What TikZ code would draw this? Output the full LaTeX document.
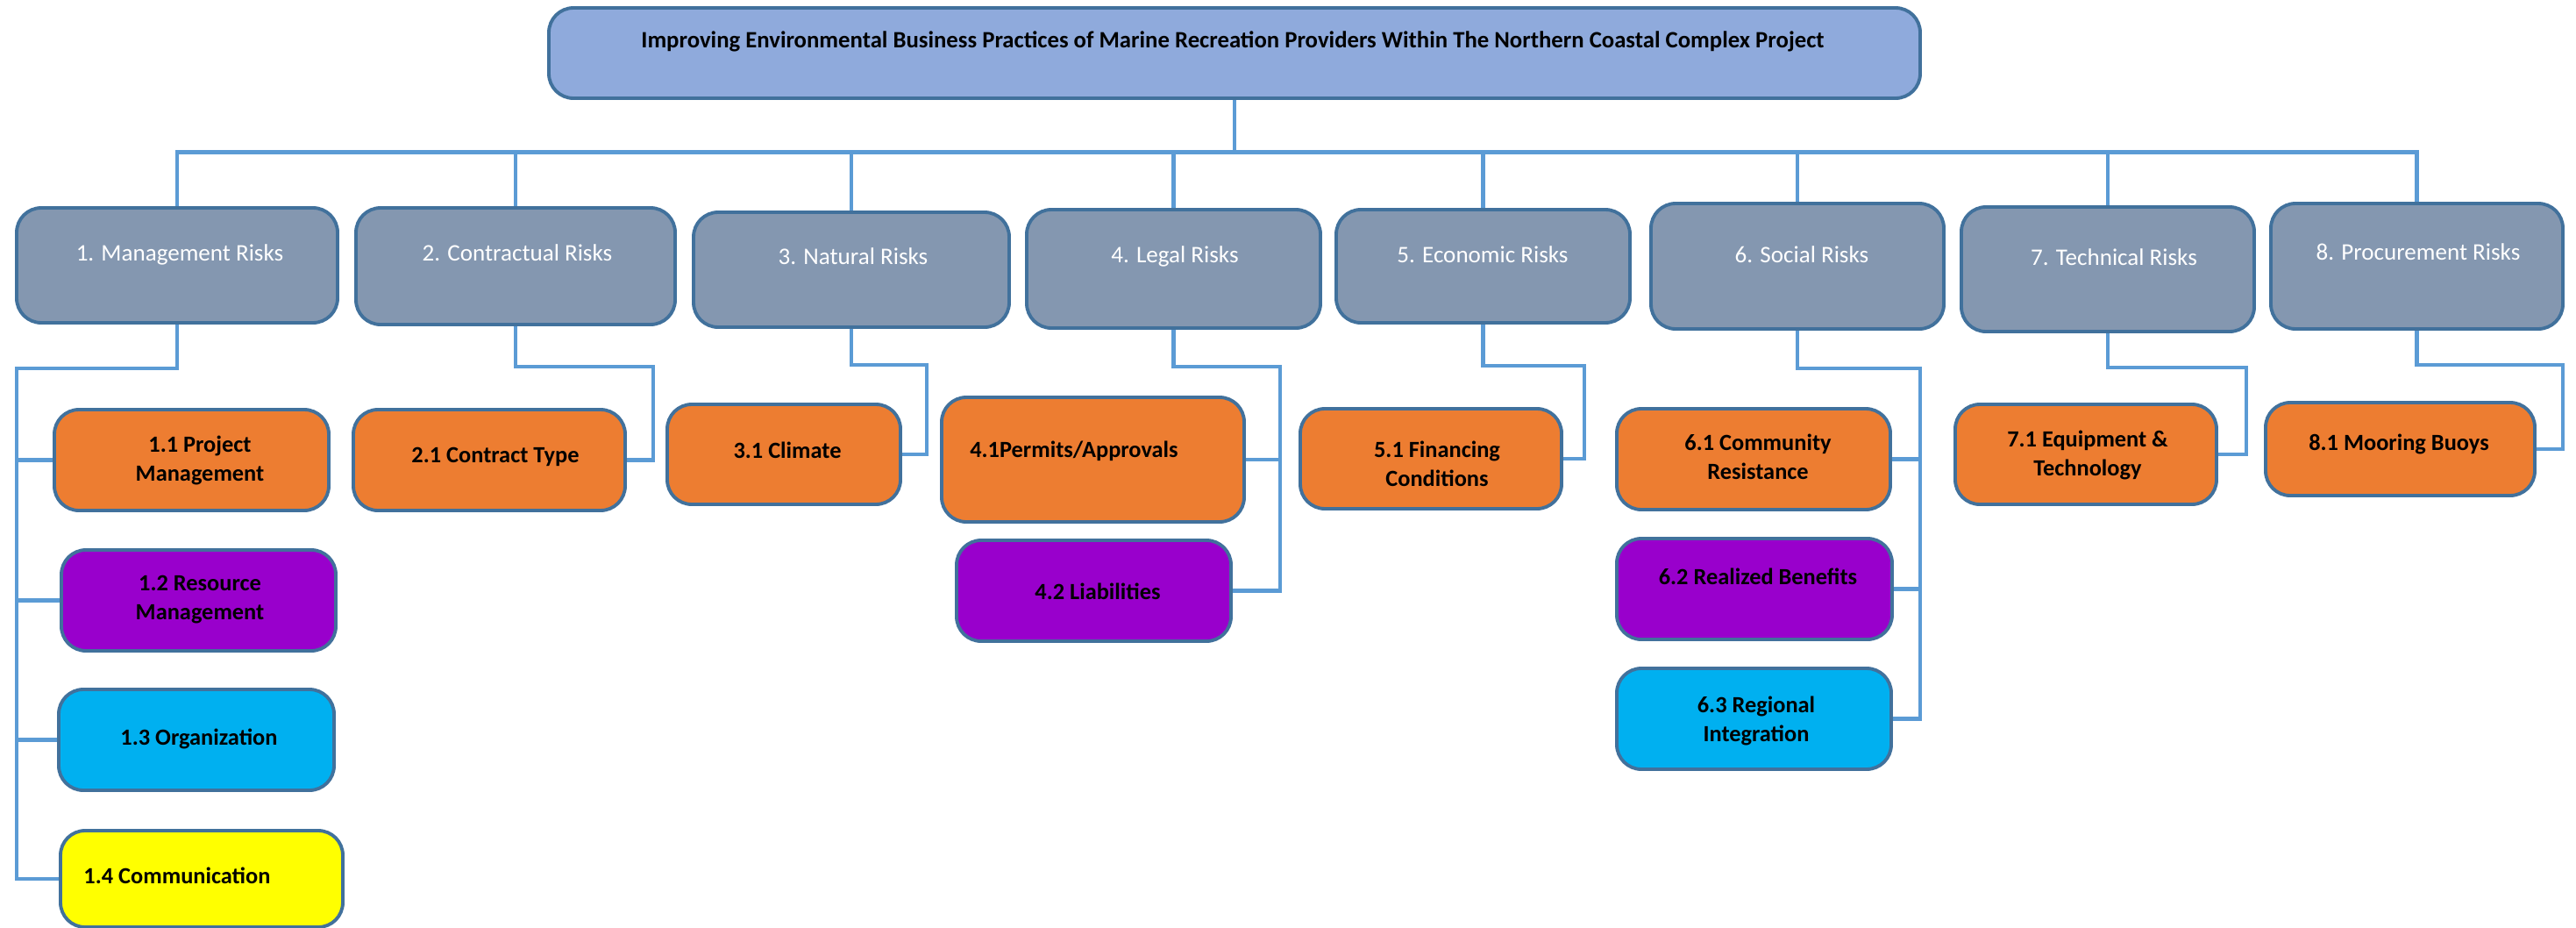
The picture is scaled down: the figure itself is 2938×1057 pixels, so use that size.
\documentclass[tikz,border=0pt]{standalone}
\usepackage{fontspec}
\setmainfont{Carlito}
\usetikzlibrary{calc}
\definecolor{lineblue}{HTML}{5B9BD5}
\definecolor{edgeblue}{HTML}{41719C}
\definecolor{topfill}{HTML}{8FAADC}
\definecolor{catfill}{HTML}{8497B0}
\definecolor{orangefill}{HTML}{ED7D31}
\definecolor{purplefill}{HTML}{9900CC}
\definecolor{cyanfill}{HTML}{00B0F0}
\definecolor{yellowfill}{HTML}{FFFF00}
\begin{document}
\begin{tikzpicture}[x=0.01cm,y=-0.01cm,
  box/.style={draw=edgeblue, line width=1.1pt, rounded corners=0.28cm, inner sep=0pt},
  topbox/.style={box, fill=topfill},
  catbox/.style={box, fill=catfill},
  orbox/.style={box, fill=orangefill},
  pubox/.style={box, fill=purplefill},
  cybox/.style={box, fill=cyanfill},
  yebox/.style={box, fill=yellowfill},
  cattext/.style={inner sep=0pt, text=white, font=\fontsize{7.7}{9.4}\selectfont},
  subtext/.style={inner sep=0pt, align=center, text=black, font=\fontsize{7.5}{9.4}\selectfont\bfseries},
  titletext/.style={inner sep=0pt, text=black, font=\fontsize{7.6}{9}\selectfont\bfseries},
  conn/.style={draw=lineblue, line width=1.4pt}
]
\useasboundingbox (0,0) rectangle (2938,1057);
\fill[white] (0,0) rectangle (2938,1057);

% top
\node[topbox, minimum width=1564*0.01cm, minimum height=103*0.01cm] (top) at (1408,60.5) {};
\node[titletext] (ttop) at (1406,47) {Improving Environmental Business Practices of Marine Recreation Providers Within The Northern Coastal Complex Project};

% level 1
\node[catbox, minimum width=366*0.01cm, minimum height=131*0.01cm] (r1) at (202,302.5) {};
\node[catbox, minimum width=364*0.01cm, minimum height=133*0.01cm] (r2) at (588,303.5) {};
\node[catbox, minimum width=360*0.01cm, minimum height=131*0.01cm] (r3) at (971,307.5) {};
\node[catbox, minimum width=335*0.01cm, minimum height=135*0.01cm] (r4) at (1338.5,306.5) {};
\node[catbox, minimum width=335*0.01cm, minimum height=129*0.01cm] (r5) at (1691.5,303.5) {};
\node[catbox, minimum width=334*0.01cm, minimum height=143*0.01cm] (r6) at (2050,303.5) {};
\node[catbox, minimum width=334*0.01cm, minimum height=142*0.01cm] (r7) at (2404,307) {};
\node[catbox, minimum width=333*0.01cm, minimum height=143*0.01cm] (r8) at (2756.5,303.5) {};

\node[cattext] (tr1) at (205,290) {1. Management Risks};
\node[cattext] (tr2) at (590,288) {2. Contractual Risks};
\node[cattext] (tr3) at (973,292) {3. Natural Risks};
\node[cattext] (tr4) at (1340,292) {4. Legal Risks};
\node[cattext] (tr5) at (1691,290) {5. Economic Risks};
\node[cattext] (tr6) at (2055,290) {6. Social Risks};
\node[cattext] (tr7) at (2411,293) {7. Technical Risks};
\node[cattext] (tr8) at (2758,287) {8. Procurement Risks};

% level 2
\node[orbox, minimum width=313*0.01cm, minimum height=115*0.01cm] (s11) at (218.5,524.5) {};
\node[pubox, minimum width=313*0.01cm, minimum height=115*0.01cm] (s12) at (226.5,684.5) {};
\node[cybox, minimum width=314*0.01cm, minimum height=115*0.01cm] (s13) at (224,843.5) {};
\node[yebox, minimum width=322*0.01cm, minimum height=110*0.01cm] (s14) at (230,1002) {};
\node[orbox, minimum width=310*0.01cm, minimum height=115*0.01cm] (s21) at (558,524.5) {};
\node[orbox, minimum width=266*0.01cm, minimum height=114*0.01cm] (s31) at (894,518) {};
\node[orbox, minimum width=345*0.01cm, minimum height=142*0.01cm] (s41) at (1246.5,524) {};
\node[pubox, minimum width=313*0.01cm, minimum height=115*0.01cm] (s42) at (1247.5,673.5) {};
\node[orbox, minimum width=298*0.01cm, minimum height=114*0.01cm] (s51) at (1632,523) {};
\node[orbox, minimum width=312*0.01cm, minimum height=115*0.01cm] (s61) at (2000,523.5) {};
\node[pubox, minimum width=314*0.01cm, minimum height=115*0.01cm] (s62) at (2001,671.5) {};
\node[cybox, minimum width=313*0.01cm, minimum height=115*0.01cm] (s63) at (2000.5,819.5) {};
\node[orbox, minimum width=298*0.01cm, minimum height=114*0.01cm] (s71) at (2379,518) {};
\node[orbox, minimum width=307*0.01cm, minimum height=106*0.01cm] (s81) at (2737.5,512) {};

\node[subtext] (ts11) at (228,525) {1.1 Project\\Management};
\node[subtext] (ts12) at (228,684) {1.2 Resource\\Management};
\node[subtext] (ts13) at (227,842) {1.3 Organization};
\node[subtext] (ts14) at (202,998) {1.4 Communication};
\node[subtext] (ts21) at (565,521) {2.1 Contract Type};
\node[subtext] (ts31) at (898,513) {3.1 Climate};
\node[subtext] (ts41) at (1225,514) {4.1Permits/Approvals};
\node[subtext] (ts42) at (1252,674) {4.2 Liabilities};
\node[subtext] (ts51) at (1639,529) {5.1 Financing\\Conditions};
\node[subtext] (ts61) at (2005,521) {6.1 Community\\Resistance};
\node[subtext] (ts62) at (2005,657) {6.2 Realized Benefits};
\node[subtext] (ts63) at (2003,822) {6.3 Regional\\Integration};
\node[subtext] (ts71) at (2381,519) {7.1 Equipment \&\\Technology};
\node[subtext] (ts81) at (2736,506) {8.1 Mooring Buoys};

% connectors top -> level 1
\foreach \r in {r1,r2,r3,r4,r5,r6,r7,r8}
  \draw[conn] (top.south) -- ++(0,60) -| (\r.north);

% level 1 -> level 2
\coordinate (c1) at (19,420);
\coordinate (c2) at (745,418);
\coordinate (c3) at (1057,416);
\coordinate (c4) at (1460,418);
\coordinate (c5) at (1807,417);
\coordinate (c6) at (2190,420);
\coordinate (c7) at (2562,419);
\coordinate (c8) at (2923,416);

\draw[conn] (r1.south) |- (c1) |- (s11.west);
\draw[conn] (c1) |- (s12.west);
\draw[conn] (c1) |- (s13.west);
\draw[conn] (c1) |- (s14.west);
\draw[conn] (r2.south) |- (c2) |- (s21.east);
\draw[conn] (r3.south) |- (c3) |- (s31.east);
\draw[conn] (r4.south) |- (c4) |- (s41.east);
\draw[conn] (c4) |- (s42.east);
\draw[conn] (r5.south) |- (c5) |- (s51.east);
\draw[conn] (r6.south) |- (c6) |- (s61.east);
\draw[conn] (c6) |- (s62.east);
\draw[conn] (c6) |- (s63.east);
\draw[conn] (r7.south) |- (c7) |- (s71.east);
\draw[conn] (r8.south) |- (c8) |- (s81.east);
\end{tikzpicture}
\end{document}
